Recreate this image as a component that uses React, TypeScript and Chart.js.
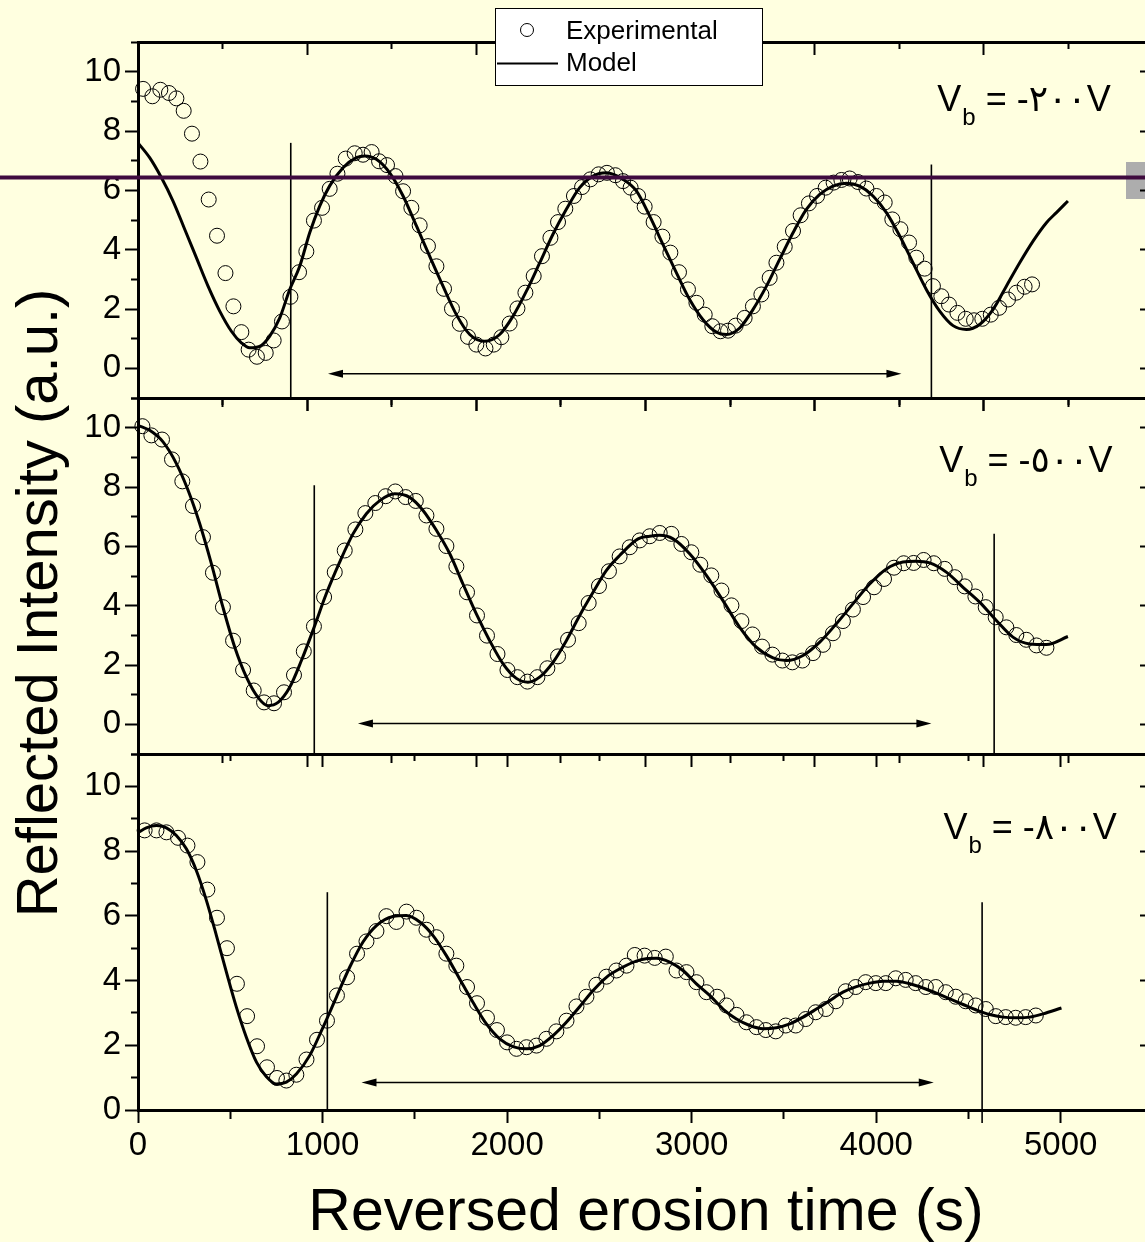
import React, { useEffect, useRef } from 'react';
import { Chart, registerables } from 'chart.js';

Chart.register(...registerables);

type Pt = [number, number];

// ---------------- data (x in each panel's axis units, y = reflected intensity) ----------------
const EXP_200V: Pt[] = [[30,9.42],[85,9.17],[132,9.39],[183,9.28],[227,9.10],[270,8.68],[319,7.91],[369,6.97],[418,5.69],[467,4.47],[517,3.21],[564,2.09],[611,1.22],[654,0.63],[703,0.39],[755,0.52],[802,0.94],[851,1.58],[901,2.41],[952,3.24],[995,3.94],[1040,4.98],[1088,5.41],[1133,6.05],[1179,6.56],[1228,7.07],[1281,7.25],[1330,7.20],[1381,7.29],[1425,6.98],[1472,6.85],[1522,6.48],[1567,5.97],[1616,5.41],[1665,4.82],[1714,4.12],[1764,3.44],[1809,2.68],[1856,2.01],[1902,1.50],[1951,1.06],[2000,0.80],[2054,0.67],[2103,0.80],[2148,1.05],[2197,1.51],[2243,2.02],[2290,2.55],[2339,3.11],[2388,3.78],[2438,4.40],[2483,4.93],[2526,5.38],[2577,5.81],[2625,6.11],[2674,6.37],[2723,6.54],[2772,6.59],[2822,6.51],[2867,6.31],[2912,6.09],[2956,5.81],[2995,5.45],[3048,4.93],[3100,4.44],[3147,3.90],[3198,3.24],[3251,2.66],[3301,2.21],[3350,1.81],[3395,1.42],[3443,1.25],[3488,1.27],[3533,1.44],[3586,1.70],[3635,2.09],[3685,2.49],[3734,3.05],[3774,3.56],[3823,4.10],[3872,4.63],[3917,5.16],[3966,5.56],[4014,5.81],[4065,6.09],[4112,6.26],[4158,6.35],[4207,6.40],[4256,6.28],[4306,6.06],[4365,5.81],[4414,5.59],[4459,5.02],[4507,4.69],[4558,4.24],[4601,3.73],[4650,3.36],[4699,2.77],[4749,2.43],[4794,2.15],[4844,1.87],[4893,1.67],[4942,1.62],[4991,1.67],[5041,1.81],[5090,2.04],[5143,2.32],[5192,2.55],[5241,2.75],[5285,2.83]];

const MODEL_200V: Pt[] = [[0,7.6],[69,7.10],[138,6.43],[207,5.64],[276,4.69],[345,3.73],[414,2.77],[483,1.93],[552,1.25],[611,0.86],[660,0.69],[719,0.74],[778,1.08],[838,1.70],[897,2.66],[956,3.44],[1015,4.57],[1074,5.47],[1133,6.15],[1212,6.76],[1291,7.10],[1340,7.16],[1409,7.05],[1488,6.59],[1567,5.81],[1646,4.80],[1724,3.78],[1803,2.77],[1882,1.81],[1961,1.14],[2049,0.91],[2138,1.14],[2217,1.76],[2296,2.60],[2375,3.56],[2453,4.52],[2532,5.36],[2611,6.09],[2690,6.48],[2769,6.59],[2867,6.37],[2946,5.98],[3025,5.13],[3103,4.18],[3183,3.22],[3261,2.32],[3340,1.64],[3419,1.22],[3478,1.14],[3557,1.36],[3635,1.98],[3715,2.77],[3793,3.67],[3872,4.57],[3951,5.36],[4030,5.86],[4108,6.14],[4188,6.24],[4266,6.14],[4345,5.81],[4424,5.25],[4503,4.46],[4581,3.56],[4660,2.66],[4739,1.93],[4818,1.44],[4897,1.31],[4975,1.48],[5054,1.98],[5133,2.77],[5212,3.56],[5291,4.29],[5370,4.91],[5429,5.25],[5497,5.64]];

const EXP_500V: Pt[] = [[26,10.05],[79,9.74],[142,9.60],[201,8.93],[262,8.19],[325,7.36],[384,6.31],[443,5.11],[502,3.95],[562,2.82],[621,1.83],[684,1.14],[745,0.74],[804,0.71],[863,1.08],[922,1.66],[980,2.46],[1040,3.30],[1100,4.29],[1163,5.13],[1222,5.86],[1285,6.57],[1344,7.12],[1403,7.46],[1464,7.69],[1521,7.85],[1582,7.66],[1642,7.53],[1705,7.04],[1764,6.59],[1823,6.01],[1882,5.32],[1945,4.45],[2004,3.67],[2063,2.99],[2125,2.37],[2184,1.83],[2243,1.59],[2302,1.44],[2361,1.59],[2420,1.89],[2483,2.29],[2542,2.85],[2605,3.41],[2664,4.09],[2725,4.66],[2784,5.16],[2847,5.66],[2907,5.97],[2966,6.20],[3025,6.34],[3084,6.45],[3153,6.42],[3212,6.08],[3271,5.80],[3324,5.38],[3389,5.02],[3449,4.51],[3508,4.01],[3567,3.48],[3632,3.03],[3689,2.62],[3750,2.35],[3809,2.15],[3868,2.09],[3927,2.15],[3990,2.40],[4049,2.68],[4108,3.07],[4167,3.48],[4226,3.87],[4286,4.29],[4351,4.62],[4410,4.90],[4469,5.28],[4526,5.43],[4585,5.44],[4644,5.54],[4704,5.43],[4769,5.24],[4828,4.96],[4887,4.65],[4950,4.31],[5011,3.95],[5070,3.61],[5133,3.27],[5192,3.01],[5251,2.85],[5311,2.66],[5370,2.58]];

const MODEL_500V: Pt[] = [[0,10.08],[69,9.91],[148,9.52],[227,8.79],[296,7.89],[365,6.76],[434,5.41],[502,3.95],[572,2.60],[641,1.59],[709,0.91],[768,0.63],[828,0.74],[897,1.25],[966,2.15],[1034,3.16],[1113,4.40],[1192,5.47],[1271,6.42],[1350,7.10],[1429,7.54],[1517,7.77],[1606,7.65],[1685,7.21],[1764,6.54],[1843,5.75],[1921,4.73],[2000,3.72],[2079,2.82],[2158,2.04],[2237,1.55],[2305,1.42],[2374,1.59],[2453,2.09],[2532,2.82],[2611,3.67],[2690,4.45],[2769,5.19],[2847,5.69],[2956,6.25],[3025,6.34],[3084,6.37],[3163,6.25],[3261,5.75],[3360,5.02],[3458,4.17],[3557,3.27],[3655,2.60],[3754,2.24],[3833,2.15],[3931,2.32],[4030,2.77],[4128,3.39],[4226,4.06],[4325,4.73],[4424,5.24],[4522,5.47],[4601,5.50],[4680,5.44],[4778,5.13],[4877,4.62],[4975,4.12],[5074,3.50],[5172,2.94],[5271,2.71],[5370,2.69],[5497,2.96]];

const EXP_800V: Pt[] = [[36,8.64],[100,8.64],[154,8.58],[217,8.41],[268,8.17],[322,7.66],[376,6.81],[428,5.94],[482,5.00],[536,3.90],[591,2.90],[645,1.97],[699,1.32],[753,0.99],[804,0.91],[858,1.09],[913,1.56],[970,2.17],[1024,2.76],[1078,3.54],[1133,4.10],[1187,4.83],[1238,5.21],[1292,5.53],[1346,5.99],[1400,5.81],[1455,6.13],[1509,5.94],[1563,5.57],[1617,5.34],[1671,4.83],[1725,4.46],[1783,3.80],[1837,3.30],[1891,2.85],[1945,2.47],[2000,2.09],[2051,1.89],[2105,1.94],[2159,1.99],[2213,2.20],[2267,2.43],[2322,2.76],[2376,3.20],[2430,3.50],[2484,3.87],[2538,4.12],[2592,4.31],[2647,4.46],[2692,4.79],[2745,4.77],[2800,4.70],[2860,4.74],[2918,4.31],[2972,4.26],[3026,3.95],[3080,3.64],[3138,3.50],[3189,3.23],[3243,2.94],[3297,2.71],[3351,2.56],[3402,2.47],[3456,2.43],[3510,2.61],[3564,2.61],[3618,2.81],[3672,3.02],[3727,3.12],[3781,3.36],[3835,3.67],[3889,3.80],[3943,3.95],[3998,3.92],[4052,3.92],[4106,4.07],[4160,4.02],[4214,3.92],[4269,3.80],[4323,3.80],[4377,3.64],[4431,3.50],[4485,3.36],[4539,3.23],[4594,3.12],[4648,2.90],[4702,2.87],[4756,2.85],[4810,2.87],[4865,2.92]];

const MODEL_800V: Pt[] = [[0,8.57],[45,8.72],[100,8.79],[154,8.72],[208,8.48],[262,8.07],[316,7.40],[371,6.47],[425,5.39],[479,4.26],[533,3.18],[587,2.25],[642,1.48],[696,1.03],[750,0.80],[804,0.86],[858,1.11],[930,1.68],[1003,2.56],[1075,3.49],[1147,4.41],[1219,5.19],[1292,5.70],[1382,5.98],[1454,6.01],[1527,5.81],[1599,5.39],[1671,4.77],[1743,4.05],[1815,3.33],[1888,2.66],[1960,2.20],[2032,1.96],[2105,1.89],[2177,1.99],[2249,2.30],[2321,2.71],[2394,3.20],[2466,3.69],[2538,4.10],[2610,4.36],[2700,4.60],[2760,4.68],[2809,4.69],[2881,4.57],[2953,4.31],[3026,3.90],[3098,3.54],[3170,3.12],[3243,2.81],[3315,2.61],[3387,2.51],[3459,2.54],[3532,2.66],[3604,2.87],[3676,3.12],[3748,3.38],[3820,3.64],[3893,3.81],[3965,3.92],[4037,3.98],[4110,3.98],[4182,3.90],[4254,3.77],[4326,3.61],[4399,3.43],[4471,3.26],[4543,3.09],[4615,2.95],[4688,2.87],[4760,2.85],[4832,2.87],[4904,2.97],[5004,3.15]];

// vertical marker lines, range arrows and bias labels (axis units)
const MARKERS_200V = [{ x: 903, top: 7.6, bottom: -1 }, { x: 4690, top: 6.87, bottom: -1 }];
const MARKERS_500V = [{ x: 1042, top: 8.06, bottom: -1 }, { x: 5061, top: 6.42, bottom: -1 }];
const MARKERS_800V = [{ x: 1026, top: 6.73, bottom: 0 }, { x: 4574, top: 6.42, bottom: -0.4 }];
const ARROW_200V = { from: 1123, to: 4513, y: -0.18 };
const ARROW_500V = { from: 1300, to: 4690, y: 0.03 };
const ARROW_800V = { from: 1211, to: 4312, y: 0.85 };
const VB_VALUES = ['-٢٠٠V', '-٥٠٠V', '-٨٠٠V'];
const VB_ANCHORS = [{ x: 5750, y: 8.66 }, { x: 5761, y: 8.5 }, { x: 5304, y: 8.38 }];

const SERIES_LABELS = ['Experimental', 'Model'];
const X_TICK_LABELS = ['0', '1000', '2000', '3000', '4000', '5000'];
const Y_TICK_LABELS = ['0', '2', '4', '6', '8', '10'];
const X_TITLE = 'Reversed erosion time (s)';
const Y_TITLE = 'Reflected Intensity (a.u.)';

// ---------------- layout / style ----------------
const FONT = '"Liberation Sans", Arial, "DejaVu Sans", sans-serif';
const BG = '#FFFFE0';
const W = 1165;
const H = 1242;
const PLOT_LEFT = 138;
const PLOT_RIGHT = 1153;
const PANEL_TOPS = [42, 398, 754];
const PANEL_BOTTOMS = [398, 754, 1110];
const X_LABEL_BAND = 60;
const TICK_FONT_SIZE = 33;

interface Panel {
  exp: Pt[];
  model: Pt[];
  xMax: number;
  yMin: number;
  markers: { x: number; top: number; bottom: number }[];
  arrow: { from: number; to: number; y: number };
  xLabels: boolean;
}

const PANELS: Panel[] = [
  { exp: EXP_200V, model: MODEL_200V, xMax: 6000, yMin: -1, markers: MARKERS_200V, arrow: ARROW_200V, xLabels: false },
  { exp: EXP_500V, model: MODEL_500V, xMax: 6000, yMin: -1, markers: MARKERS_500V, arrow: ARROW_500V, xLabels: false },
  { exp: EXP_800V, model: MODEL_800V, xMax: 5500, yMin: 0, markers: MARKERS_800V, arrow: ARROW_800V, xLabels: true },
];

function axis(position: string, min: number, max: number, step: number, tickLen: number,
  isMajor: (v: number) => boolean, label: (v: number) => string, pad: number, size: number) {
  const nearFirst = position === 'left' || position === 'top';
  return {
    type: 'linear',
    position,
    min,
    max,
    afterFit: (scale: any) => {
      if (scale.isHorizontal()) scale.height = size;
      else scale.width = size;
    },
    ticks: {
      stepSize: step,
      autoSkip: false,
      maxRotation: 0,
      minRotation: 0,
      padding: pad,
      color: '#000',
      font: { family: FONT, size: TICK_FONT_SIZE },
      callback: (v: number) => label(v),
    },
    grid: {
      drawOnChartArea: false,
      drawTicks: true,
      tickLength: tickLen,
      tickWidth: 2,
      tickColor: '#000',
      tickBorderDash: (ctx: any) => {
        const v = ctx.tick ? ctx.tick.value : 0;
        if (isMajor(v)) return [];
        return nearFirst ? [0, 6, 100] : [7, 100];
      },
    },
    border: { display: true, color: '#000', width: 3 },
  };
}

function drawVb(ctx: CanvasRenderingContext2D, text: string, right: number, base: number) {
  ctx.textAlign = 'left';
  ctx.textBaseline = 'alphabetic';
  ctx.fillStyle = '#000';
  ctx.font = `36px ${FONT}`;
  const wV = ctx.measureText('V').width;
  const rest = ' = ' + text;
  const wRest = ctx.measureText(rest).width;
  ctx.font = `24px ${FONT}`;
  const wb = ctx.measureText('b').width;
  const x0 = right - (wV + wb + wRest + 1);
  ctx.font = `36px ${FONT}`;
  ctx.fillText('V', x0, base);
  ctx.font = `24px ${FONT}`;
  ctx.fillText('b', x0 + wV + 1, base + 14);
  ctx.font = `36px ${FONT}`;
  ctx.fillText(rest, x0 + wV + wb + 1, base);
}

function arrowHead(ctx: CanvasRenderingContext2D, tip: number, y: number, dir: number) {
  ctx.beginPath();
  ctx.moveTo(tip, y);
  ctx.lineTo(tip - dir * 15, y - 4);
  ctx.lineTo(tip - dir * 15, y + 4);
  ctx.closePath();
  ctx.fill();
}

function makePlugin(p: Panel, idx: number) {
  return {
    id: 'annot' + idx,
    beforeDraw(chart: any) {
      if (idx !== 0) return;
      const ctx = chart.ctx as CanvasRenderingContext2D;
      ctx.save();
      ctx.fillStyle = '#adadad';
      ctx.fillRect(1126, 162, 40, 37);
      ctx.restore();
    },
    afterDatasetsDraw(chart: any) {
      const ctx = chart.ctx as CanvasRenderingContext2D;
      const xs = chart.scales.x;
      const ys = chart.scales.y;
      ctx.save();
      ctx.strokeStyle = '#000';
      ctx.fillStyle = '#000';
      ctx.lineWidth = 1.6;
      for (const m of p.markers) {
        const px = xs.getPixelForValue(m.x);
        ctx.beginPath();
        ctx.moveTo(px, ys.getPixelForValue(m.top));
        ctx.lineTo(px, ys.getPixelForValue(m.bottom));
        ctx.stroke();
      }
      const a1 = xs.getPixelForValue(p.arrow.from);
      const a2 = xs.getPixelForValue(p.arrow.to);
      const ay = ys.getPixelForValue(p.arrow.y);
      ctx.lineWidth = 1.5;
      ctx.beginPath();
      ctx.moveTo(a1 + 10, ay);
      ctx.lineTo(a2 - 10, ay);
      ctx.stroke();
      arrowHead(ctx, a1, ay, -1);
      arrowHead(ctx, a2, ay, 1);
      const anc = VB_ANCHORS[idx];
      drawVb(ctx, VB_VALUES[idx], xs.getPixelForValue(anc.x), ys.getPixelForValue(anc.y));
      ctx.restore();
    },
    afterDraw(chart: any) {
      const ctx = chart.ctx as CanvasRenderingContext2D;
      ctx.save();
      if (idx === 0) {
        // legend
        ctx.fillStyle = '#fff';
        ctx.fillRect(495.5, 8.5, 267, 77);
        ctx.strokeStyle = '#000';
        ctx.lineWidth = 1;
        ctx.strokeRect(495.5, 8.5, 267, 77);
        ctx.beginPath();
        ctx.arc(527, 30, 6.5, 0, Math.PI * 2);
        ctx.stroke();
        ctx.lineWidth = 2;
        ctx.beginPath();
        ctx.moveTo(497, 63.5);
        ctx.lineTo(558, 63.5);
        ctx.stroke();
        ctx.fillStyle = '#000';
        ctx.font = `26px ${FONT}`;
        ctx.textAlign = 'left';
        ctx.textBaseline = 'alphabetic';
        ctx.fillText(SERIES_LABELS[0], 566, 38.5);
        ctx.fillText(SERIES_LABELS[1], 566, 71);
        // horizontal slide line
        ctx.fillStyle = '#3f0b3f';
        ctx.fillRect(0, 175.5, W, 4);
      }
      if (idx === 2) {
        ctx.fillStyle = '#000';
        ctx.textBaseline = 'alphabetic';
        ctx.textAlign = 'center';
        ctx.font = `59px ${FONT}`;
        ctx.fillText(X_TITLE, 646, 1230);
        ctx.translate(57, 603);
        ctx.rotate(-Math.PI / 2);
        ctx.font = `58px ${FONT}`;
        ctx.fillText(Y_TITLE, 0, 0);
      }
      ctx.restore();
    },
  };
}

function buildConfig(p: Panel, idx: number): any {
  const xMajor = (v: number) => v % 1000 === 0;
  const yMajor = (v: number) => v % 2 === 0;
  const none = () => '';
  const xLabel = p.xLabels ? (v: number) => (X_TICK_LABELS.includes(String(v)) ? String(v) : '') : none;
  const yLabel = (v: number) => (Y_TICK_LABELS.includes(String(v)) ? String(v) : '');
  const xBand = p.xLabels ? X_LABEL_BAND : 0;
  return {
    type: 'line',
    data: {
      datasets: [
        {
          label: SERIES_LABELS[0],
          data: p.exp.map(([x, y]) => ({ x, y })),
          showLine: false,
          pointStyle: 'circle',
          pointRadius: 7.5,
          pointBorderWidth: 1,
          pointBorderColor: '#000',
          pointBackgroundColor: 'rgba(0,0,0,0)',
          borderColor: '#000',
          clip: false,
        },
        {
          label: SERIES_LABELS[1],
          data: p.model.map(([x, y]) => ({ x, y })),
          borderColor: '#000',
          borderWidth: 3,
          pointRadius: 0,
          cubicInterpolationMode: 'monotone',
          fill: false,
        },
      ],
    },
    options: {
      responsive: false,
      animation: false,
      devicePixelRatio: 1,
      events: [],
      layout: {
        autoPadding: false,
        padding: { left: 0, right: W - PLOT_RIGHT, top: PANEL_TOPS[idx], bottom: H - PANEL_BOTTOMS[idx] - xBand },
      },
      plugins: { legend: { display: false }, tooltip: { enabled: false }, title: { display: false } },
      scales: {
        x: axis('bottom', 0, p.xMax, 500, 13, xMajor, xLabel, 3, xBand),
        xTop: axis('top', 0, p.xMax, 500, -13, xMajor, none, 3, 0),
        y: axis('left', p.yMin, 11, 1, 13, yMajor, yLabel, 4, PLOT_LEFT),
        yRight: axis('right', p.yMin, 11, 1, -13, yMajor, none, 3, 0),
      },
    },
    plugins: [makePlugin(p, idx)],
  };
}

export default function App() {
  const refs = useRef<(HTMLCanvasElement | null)[]>([null, null, null]);

  useEffect(() => {
    const charts: Chart[] = [];
    PANELS.forEach((p, i) => {
      const c = refs.current[i];
      if (c) charts.push(new Chart(c, buildConfig(p, i)));
    });
    return () => {
      charts.forEach((c) => c.destroy());
    };
  }, []);

  return (
    <div style={{ position: 'absolute', left: 0, top: 0, width: 1145, height: 1242, overflow: 'hidden', background: BG }}>
      {[0, 1, 2].map((i) => (
        <canvas
          key={i}
          ref={(el) => {
            refs.current[i] = el;
          }}
          width={W}
          height={H}
          style={{ position: 'absolute', left: 0, top: 0, width: W, height: H }}
        />
      ))}
    </div>
  );
}
